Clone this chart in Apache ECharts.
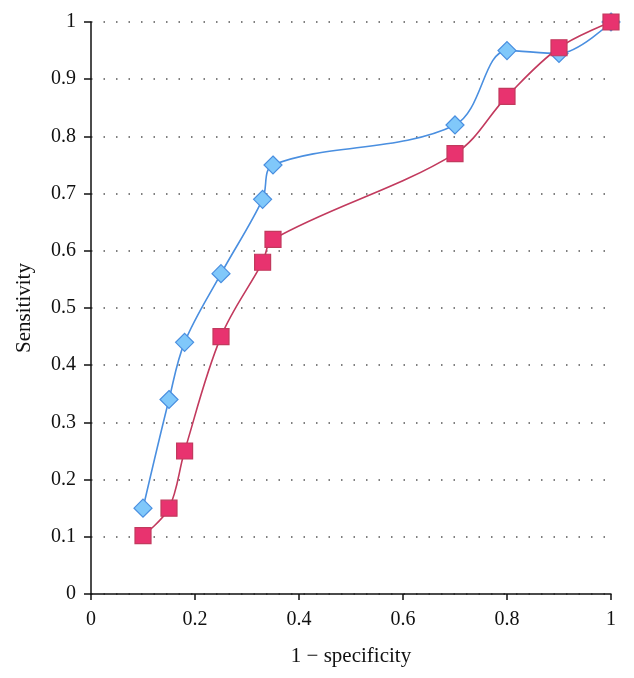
<!DOCTYPE html>
<html>
<head>
<meta charset="utf-8">
<script src="https://cdn.jsdelivr.net/npm/echarts@6/dist/echarts.min.js"></script>
<style>html,body{margin:0;padding:0;background:#fff}#c{width:634px;height:678px}</style>
</head>
<body>
<div id="c"></div>
<script>
const xTicks = [0, 0.2, 0.4, 0.6, 0.8, 1];
const blueX = [0.1, 0.15, 0.18, 0.25, 0.33, 0.35, 0.7, 0.8, 0.9, 1];
const blueY = [0.15, 0.34, 0.44, 0.56, 0.69, 0.75, 0.82, 0.95, 0.945, 1];
const redX = [0.1, 0.15, 0.18, 0.25, 0.33, 0.35, 0.7, 0.8, 0.9, 1];
const redY = [0.102, 0.15, 0.25, 0.45, 0.58, 0.62, 0.77, 0.87, 0.955, 1];

const font = 'Liberation Serif';
const chart = echarts.init(document.getElementById('c'));
chart.setOption({
  animation: false,
  grid: {left: 91, right: 23, top: 22, bottom: 84},
  xAxis: {
    type: 'value', min: 0, max: 1, interval: 0.2,
    name: '1 \u2212 specificity', nameLocation: 'middle', nameGap: 52,
    nameTextStyle: {fontFamily: font, fontSize: 21, color: '#111'},
    axisLine: {show: true, lineStyle: {color: '#111', width: 1.5}},
    axisTick: {show: true, length: 6, lineStyle: {color: '#111', width: 1.5}},
    axisLabel: {fontFamily: font, fontSize: 20, color: '#111', margin: 16,
      formatter: v => String(+v.toFixed(1))},
    splitLine: {show: false}
  },
  yAxis: {
    type: 'value', min: 0, max: 1, interval: 0.1,
    name: 'Sensitivity', nameLocation: 'middle', nameGap: 56,
    nameTextStyle: {fontFamily: font, fontSize: 21, color: '#111'},
    axisLine: {show: true, lineStyle: {color: '#111', width: 1.5}},
    axisTick: {show: true, length: 7, lineStyle: {color: '#111', width: 1.5}},
    axisLabel: {fontFamily: font, fontSize: 20, color: '#111', margin: 15,
      formatter: v => String(+v.toFixed(1))},
    splitLine: {show: true, lineStyle: {color: '#555', type: [1.5, 11], width: 1.5}}
  },
  series: [
    {
      type: 'line', smooth: 0.35,
      data: redX.map((x, i) => [x, redY[i]]),
      symbol: 'rect', symbolSize: 16,
      lineStyle: {color: '#c23a5e', width: 1.6},
      itemStyle: {color: '#e8336f', borderColor: '#c23a5e', borderWidth: 1.2},
      z: 2
    },
    {
      type: 'line', smooth: 0.35,
      data: blueX.map((x, i) => [x, blueY[i]]),
      symbol: 'diamond', symbolSize: [18, 18],
      lineStyle: {color: '#4a8fe0', width: 1.6},
      itemStyle: {color: '#80c8fa', borderColor: '#4a8fe0', borderWidth: 1.2},
      z: 1
    }
  ]
});
</script>
</body>
</html>
